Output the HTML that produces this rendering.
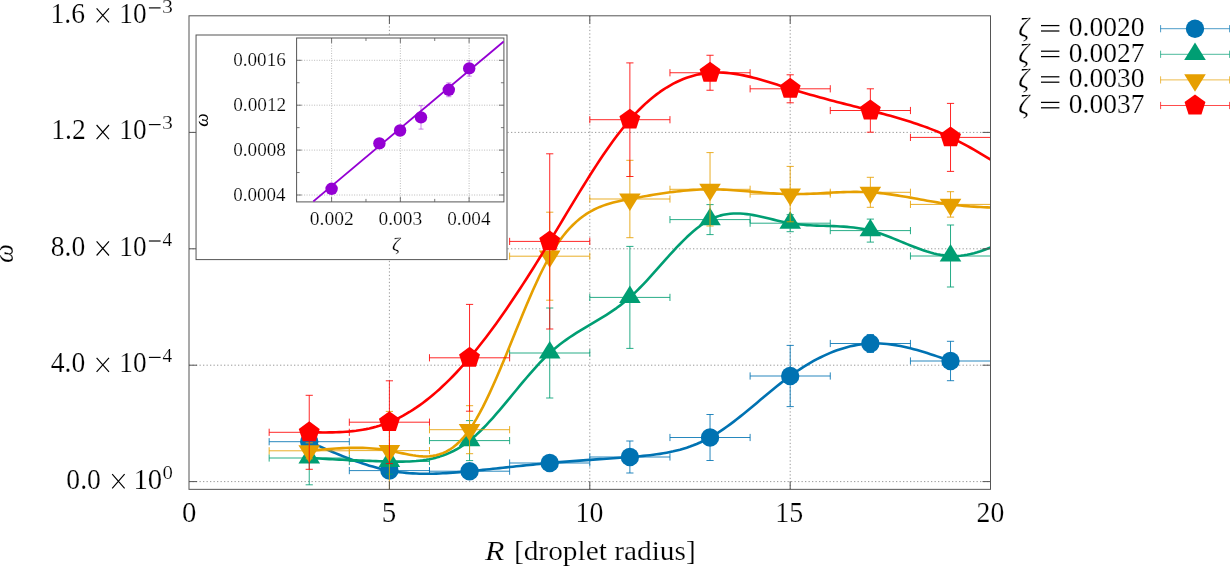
<!DOCTYPE html>
<html><head><meta charset="utf-8"><style>
html,body{margin:0;padding:0;background:#fff;overflow:hidden}
svg{display:block;font-family:"Liberation Serif",serif;will-change:transform}
text{stroke:#fff;stroke-width:0.2px}
</style></head><body>
<svg width="1230" height="567" viewBox="0 0 1230 567">
<rect width="1230" height="567" fill="#fff"/>
<path d="M389.40,15.8V489.35M589.80,15.8V489.35M790.20,15.8V489.35M189.0,481.6H990.5M189.0,365.2H990.5M189.0,248.8H990.5M189.0,132.4H990.5" stroke="#999" stroke-width="1" stroke-dasharray="1.3,2.2" fill="none"/>
<defs><clipPath id="pc"><rect x="189.0" y="15.8" width="801.50" height="473.55"/></clipPath></defs>
<g clip-path="url(#pc)">
<path d="M269.16,441.70H349.32M269.16,438.10V445.30M349.32,438.10V445.30M309.24,435.70V447.70M305.64,435.70H312.84M305.64,447.70H312.84M349.32,470.60H429.48M349.32,467.00V474.20M429.48,467.00V474.20M389.40,464.60V476.60M385.80,464.60H393.00M385.80,476.60H393.00M429.48,471.20H509.64M429.48,467.60V474.80M509.64,467.60V474.80M469.56,465.20V477.20M465.96,465.20H473.16M465.96,477.20H473.16M509.64,463.00H589.80M509.64,459.40V466.60M589.80,459.40V466.60M549.72,458.00V468.00M546.12,458.00H553.32M546.12,468.00H553.32M589.80,457.00H669.96M589.80,453.40V460.60M669.96,453.40V460.60M629.88,441.00V473.00M626.28,441.00H633.48M626.28,473.00H633.48M669.96,437.50H750.12M669.96,433.90V441.10M750.12,433.90V441.10M710.04,414.50V460.50M706.44,414.50H713.64M706.44,460.50H713.64M750.12,376.00H830.28M750.12,372.40V379.60M830.28,372.40V379.60M790.20,345.40V406.60M786.60,345.40H793.80M786.60,406.60H793.80M830.28,343.50H910.44M830.28,339.90V347.10M910.44,339.90V347.10M870.36,334.50V352.50M866.76,334.50H873.96M866.76,352.50H873.96M910.44,361.00H990.60M910.44,357.40V364.60M990.60,357.40V364.60M950.52,341.30V380.70M946.92,341.30H954.12M946.92,380.70H954.12" stroke="#0072b2" stroke-width="0.85" fill="none"/>
<path d="M309.24,441.70 L312.58,443.19 L315.92,444.68 L319.26,446.16 L322.60,447.64 L325.94,449.10 L329.28,450.54 L332.62,451.97 L335.96,453.38 L339.30,454.76 L342.64,456.12 L345.98,457.45 L349.32,458.74 L352.66,460.00 L356.00,461.21 L359.34,462.39 L362.68,463.52 L366.02,464.61 L369.36,465.64 L372.70,466.62 L376.04,467.54 L379.38,468.40 L382.72,469.20 L386.06,469.94 L389.40,470.60 L392.74,471.19 L396.08,471.72 L399.42,472.18 L402.76,472.57 L406.10,472.90 L409.44,473.18 L412.78,473.39 L416.12,473.56 L419.46,473.68 L422.80,473.74 L426.14,473.77 L429.48,473.75 L432.82,473.69 L436.16,473.59 L439.50,473.46 L442.84,473.30 L446.18,473.11 L449.52,472.89 L452.86,472.65 L456.20,472.39 L459.54,472.12 L462.88,471.82 L466.22,471.52 L469.56,471.20 L472.90,470.88 L476.24,470.55 L479.58,470.21 L482.92,469.87 L486.26,469.53 L489.60,469.18 L492.94,468.82 L496.28,468.47 L499.62,468.11 L502.96,467.75 L506.30,467.40 L509.64,467.04 L512.98,466.68 L516.32,466.33 L519.66,465.97 L523.00,465.62 L526.34,465.27 L529.68,464.93 L533.02,464.59 L536.36,464.26 L539.70,463.94 L543.04,463.62 L546.38,463.30 L549.72,463.00 L553.06,462.70 L556.40,462.42 L559.74,462.14 L563.08,461.87 L566.42,461.60 L569.76,461.34 L573.10,461.09 L576.44,460.84 L579.78,460.59 L583.12,460.35 L586.46,460.11 L589.80,459.87 L593.14,459.64 L596.48,459.41 L599.82,459.17 L603.16,458.94 L606.50,458.70 L609.84,458.47 L613.18,458.23 L616.52,457.99 L619.86,457.75 L623.20,457.51 L626.54,457.25 L629.88,457.00 L633.22,456.74 L636.56,456.47 L639.90,456.18 L643.24,455.87 L646.58,455.54 L649.92,455.17 L653.26,454.77 L656.60,454.33 L659.94,453.84 L663.28,453.31 L666.62,452.71 L669.96,452.05 L673.30,451.33 L676.64,450.53 L679.98,449.66 L683.32,448.70 L686.66,447.66 L690.00,446.53 L693.34,445.30 L696.68,443.96 L700.02,442.52 L703.36,440.97 L706.70,439.30 L710.04,437.50 L713.38,435.58 L716.72,433.54 L720.06,431.39 L723.40,429.14 L726.74,426.79 L730.08,424.36 L733.42,421.85 L736.76,419.28 L740.10,416.64 L743.44,413.96 L746.78,411.24 L750.12,408.48 L753.46,405.70 L756.80,402.90 L760.14,400.10 L763.48,397.30 L766.82,394.51 L770.16,391.74 L773.50,388.99 L776.84,386.29 L780.18,383.63 L783.52,381.02 L786.86,378.47 L790.20,376.00 L793.54,373.61 L796.88,371.29 L800.22,369.06 L803.56,366.91 L806.90,364.85 L810.24,362.88 L813.58,360.99 L816.92,359.19 L820.26,357.48 L823.60,355.86 L826.94,354.33 L830.28,352.90 L833.62,351.57 L836.96,350.33 L840.30,349.18 L843.64,348.14 L846.98,347.20 L850.32,346.35 L853.66,345.61 L857.00,344.98 L860.34,344.45 L863.68,344.02 L867.02,343.71 L870.36,343.50 L873.70,343.40 L877.04,343.41 L880.38,343.52 L883.72,343.72 L887.06,344.02 L890.40,344.40 L893.74,344.87 L897.08,345.41 L900.42,346.03 L903.76,346.72 L907.10,347.47 L910.44,348.28 L913.78,349.15 L917.12,350.07 L920.46,351.03 L923.80,352.03 L927.14,353.07 L930.48,354.15 L933.82,355.25 L937.16,356.37 L940.50,357.51 L943.84,358.67 L947.18,359.83 L950.52,361.00" stroke="#0072b2" stroke-width="2.6" fill="none" stroke-linejoin="round"/>
<circle cx="309.24" cy="441.70" r="9.2" fill="#0072b2"/>
<circle cx="389.40" cy="470.60" r="9.2" fill="#0072b2"/>
<circle cx="469.56" cy="471.20" r="9.2" fill="#0072b2"/>
<circle cx="549.72" cy="463.00" r="9.2" fill="#0072b2"/>
<circle cx="629.88" cy="457.00" r="9.2" fill="#0072b2"/>
<circle cx="710.04" cy="437.50" r="9.2" fill="#0072b2"/>
<circle cx="790.20" cy="376.00" r="9.2" fill="#0072b2"/>
<circle cx="870.36" cy="343.50" r="9.2" fill="#0072b2"/>
<circle cx="950.52" cy="361.00" r="9.2" fill="#0072b2"/>
<path d="M269.16,458.00H349.32M269.16,454.40V461.60M349.32,454.40V461.60M309.24,431.20V484.80M305.64,431.20H312.84M305.64,484.80H312.84M349.32,461.50H429.48M349.32,457.90V465.10M429.48,457.90V465.10M389.40,448.80V474.20M385.80,448.80H393.00M385.80,474.20H393.00M429.48,440.60H509.64M429.48,437.00V444.20M509.64,437.00V444.20M469.56,420.60V460.60M465.96,420.60H473.16M465.96,460.60H473.16M509.64,353.00H589.80M509.64,349.40V356.60M589.80,349.40V356.60M549.72,308.00V398.00M546.12,308.00H553.32M546.12,398.00H553.32M589.80,297.40H669.96M589.80,293.80V301.00M669.96,293.80V301.00M629.88,246.40V348.40M626.28,246.40H633.48M626.28,348.40H633.48M669.96,219.60H750.12M669.96,216.00V223.20M750.12,216.00V223.20M710.04,204.60V234.60M706.44,204.60H713.64M706.44,234.60H713.64M750.12,223.20H830.28M750.12,219.60V226.80M830.28,219.60V226.80M790.20,214.70V231.70M786.60,214.70H793.80M786.60,231.70H793.80M830.28,230.60H910.44M830.28,227.00V234.20M910.44,227.00V234.20M870.36,219.10V242.10M866.76,219.10H873.96M866.76,242.10H873.96M910.44,256.00H990.60M910.44,252.40V259.60M990.60,252.40V259.60M950.52,225.00V287.00M946.92,225.00H954.12M946.92,287.00H954.12" stroke="#009e73" stroke-width="0.85" fill="none"/>
<path d="M309.24,458.00 L312.58,458.18 L315.92,458.37 L319.26,458.55 L322.60,458.73 L325.94,458.91 L329.28,459.09 L332.62,459.26 L335.96,459.43 L339.30,459.60 L342.64,459.77 L345.98,459.93 L349.32,460.09 L352.66,460.24 L356.00,460.39 L359.34,460.53 L362.68,460.67 L366.02,460.80 L369.36,460.92 L372.70,461.04 L376.04,461.15 L379.38,461.25 L382.72,461.34 L386.06,461.42 L389.40,461.50 L392.74,461.56 L396.08,461.61 L399.42,461.63 L402.76,461.61 L406.10,461.55 L409.44,461.44 L412.78,461.27 L416.12,461.03 L419.46,460.70 L422.80,460.30 L426.14,459.79 L429.48,459.18 L432.82,458.46 L436.16,457.62 L439.50,456.64 L442.84,455.53 L446.18,454.27 L449.52,452.86 L452.86,451.28 L456.20,449.52 L459.54,447.59 L462.88,445.46 L466.22,443.13 L469.56,440.60 L472.90,437.85 L476.24,434.91 L479.58,431.78 L482.92,428.48 L486.26,425.04 L489.60,421.46 L492.94,417.76 L496.28,413.96 L499.62,410.08 L502.96,406.13 L506.30,402.13 L509.64,398.10 L512.98,394.04 L516.32,389.99 L519.66,385.95 L523.00,381.94 L526.34,377.98 L529.68,374.09 L533.02,370.27 L536.36,366.56 L539.70,362.95 L543.04,359.48 L546.38,356.16 L549.72,353.00 L553.06,350.02 L556.40,347.20 L559.74,344.53 L563.08,342.00 L566.42,339.59 L569.76,337.29 L573.10,335.08 L576.44,332.95 L579.78,330.88 L583.12,328.86 L586.46,326.87 L589.80,324.90 L593.14,322.94 L596.48,320.96 L599.82,318.96 L603.16,316.92 L606.50,314.83 L609.84,312.66 L613.18,310.41 L616.52,308.07 L619.86,305.61 L623.20,303.02 L626.54,300.29 L629.88,297.40 L633.22,294.35 L636.56,291.14 L639.90,287.79 L643.24,284.34 L646.58,280.78 L649.92,277.14 L653.26,273.45 L656.60,269.71 L659.94,265.96 L663.28,262.19 L666.62,258.45 L669.96,254.73 L673.30,251.07 L676.64,247.48 L679.98,243.98 L683.32,240.59 L686.66,237.32 L690.00,234.20 L693.34,231.25 L696.68,228.48 L700.02,225.91 L703.36,223.56 L706.70,221.45 L710.04,219.60 L713.38,218.02 L716.72,216.70 L720.06,215.63 L723.40,214.79 L726.74,214.17 L730.08,213.74 L733.42,213.50 L736.76,213.44 L740.10,213.53 L743.44,213.75 L746.78,214.11 L750.12,214.57 L753.46,215.13 L756.80,215.77 L760.14,216.47 L763.48,217.23 L766.82,218.01 L770.16,218.82 L773.50,219.63 L776.84,220.42 L780.18,221.20 L783.52,221.93 L786.86,222.60 L790.20,223.20 L793.54,223.72 L796.88,224.16 L800.22,224.53 L803.56,224.83 L806.90,225.08 L810.24,225.29 L813.58,225.46 L816.92,225.60 L820.26,225.72 L823.60,225.82 L826.94,225.92 L830.28,226.03 L833.62,226.15 L836.96,226.28 L840.30,226.45 L843.64,226.65 L846.98,226.90 L850.32,227.20 L853.66,227.57 L857.00,228.00 L860.34,228.51 L863.68,229.11 L867.02,229.80 L870.36,230.60 L873.70,231.50 L877.04,232.51 L880.38,233.60 L883.72,234.77 L887.06,236.00 L890.40,237.29 L893.74,238.61 L897.08,239.97 L900.42,241.34 L903.76,242.72 L907.10,244.09 L910.44,245.44 L913.78,246.76 L917.12,248.05 L920.46,249.27 L923.80,250.44 L927.14,251.53 L930.48,252.52 L933.82,253.42 L937.16,254.21 L940.50,254.87 L943.84,255.40 L947.18,255.78 L950.52,256.00 L953.86,256.05 L957.20,255.94 L960.54,255.68 L963.88,255.26 L967.22,254.70 L970.56,254.01 L973.90,253.18 L977.24,252.24 L980.58,251.18 L983.92,250.02 L987.26,248.76 L990.60,247.40" stroke="#009e73" stroke-width="2.6" fill="none" stroke-linejoin="round"/>
<polygon points="309.24,446.10 320.04,463.60 298.44,463.60" fill="#009e73"/>
<polygon points="389.40,449.60 400.20,467.10 378.60,467.10" fill="#009e73"/>
<polygon points="469.56,428.70 480.36,446.20 458.76,446.20" fill="#009e73"/>
<polygon points="549.72,341.10 560.52,358.60 538.92,358.60" fill="#009e73"/>
<polygon points="629.88,285.50 640.68,303.00 619.08,303.00" fill="#009e73"/>
<polygon points="710.04,207.70 720.84,225.20 699.24,225.20" fill="#009e73"/>
<polygon points="790.20,211.30 801.00,228.80 779.40,228.80" fill="#009e73"/>
<polygon points="870.36,218.70 881.16,236.20 859.56,236.20" fill="#009e73"/>
<polygon points="950.52,244.10 961.32,261.60 939.72,261.60" fill="#009e73"/>
<path d="M269.16,450.80H349.32M269.16,447.20V454.40M349.32,447.20V454.40M309.24,442.80V458.80M305.64,442.80H312.84M305.64,458.80H312.84M349.32,450.60H429.48M349.32,447.00V454.20M429.48,447.00V454.20M389.40,411.40V489.80M385.80,411.40H393.00M385.80,489.80H393.00M429.48,429.70H509.64M429.48,426.10V433.30M509.64,426.10V433.30M469.56,405.70V453.70M465.96,405.70H473.16M465.96,453.70H473.16M509.64,256.20H589.80M509.64,252.60V259.80M589.80,252.60V259.80M549.72,212.20V300.20M546.12,212.20H553.32M546.12,300.20H553.32M589.80,199.00H669.96M589.80,195.40V202.60M669.96,195.40V202.60M629.88,160.30V237.70M626.28,160.30H633.48M626.28,237.70H633.48M669.96,189.30H750.12M669.96,185.70V192.90M750.12,185.70V192.90M710.04,152.60V226.00M706.44,152.60H713.64M706.44,226.00H713.64M750.12,194.10H830.28M750.12,190.50V197.70M830.28,190.50V197.70M790.20,166.40V221.80M786.60,166.40H793.80M786.60,221.80H793.80M830.28,192.30H910.44M830.28,188.70V195.90M910.44,188.70V195.90M870.36,177.30V207.30M866.76,177.30H873.96M866.76,207.30H873.96M910.44,204.40H990.60M910.44,200.80V208.00M990.60,200.80V208.00M950.52,191.70V217.10M946.92,191.70H954.12M946.92,217.10H954.12" stroke="#e69f00" stroke-width="0.85" fill="none"/>
<path d="M309.24,450.80 L312.58,450.48 L315.92,450.17 L319.26,449.86 L322.60,449.56 L325.94,449.28 L329.28,449.01 L332.62,448.76 L335.96,448.53 L339.30,448.33 L342.64,448.16 L345.98,448.02 L349.32,447.92 L352.66,447.85 L356.00,447.83 L359.34,447.85 L362.68,447.92 L366.02,448.04 L369.36,448.21 L372.70,448.45 L376.04,448.74 L379.38,449.10 L382.72,449.53 L386.06,450.03 L389.40,450.60 L392.74,451.25 L396.08,451.94 L399.42,452.67 L402.76,453.39 L406.10,454.10 L409.44,454.75 L412.78,455.33 L416.12,455.82 L419.46,456.18 L422.80,456.39 L426.14,456.43 L429.48,456.27 L432.82,455.88 L436.16,455.25 L439.50,454.34 L442.84,453.13 L446.18,451.60 L449.52,449.72 L452.86,447.47 L456.20,444.81 L459.54,441.74 L462.88,438.21 L466.22,434.20 L469.56,429.70 L472.90,424.68 L476.24,419.18 L479.58,413.23 L482.92,406.88 L486.26,400.16 L489.60,393.12 L492.94,385.79 L496.28,378.21 L499.62,370.43 L502.96,362.48 L506.30,354.41 L509.64,346.25 L512.98,338.05 L516.32,329.84 L519.66,321.67 L523.00,313.56 L526.34,305.58 L529.68,297.74 L533.02,290.10 L536.36,282.69 L539.70,275.56 L543.04,268.74 L546.38,262.27 L549.72,256.20 L553.06,250.55 L556.40,245.32 L559.74,240.48 L563.08,236.02 L566.42,231.93 L569.76,228.17 L573.10,224.75 L576.44,221.63 L579.78,218.80 L583.12,216.25 L586.46,213.94 L589.80,211.88 L593.14,210.03 L596.48,208.38 L599.82,206.92 L603.16,205.62 L606.50,204.47 L609.84,203.44 L613.18,202.53 L616.52,201.71 L619.86,200.96 L623.20,200.28 L626.54,199.63 L629.88,199.00 L633.22,198.38 L636.56,197.76 L639.90,197.16 L643.24,196.56 L646.58,195.97 L649.92,195.39 L653.26,194.83 L656.60,194.29 L659.94,193.76 L663.28,193.25 L666.62,192.77 L669.96,192.31 L673.30,191.87 L676.64,191.47 L679.98,191.09 L683.32,190.74 L686.66,190.43 L690.00,190.15 L693.34,189.90 L696.68,189.70 L700.02,189.53 L703.36,189.41 L706.70,189.33 L710.04,189.30 L713.38,189.31 L716.72,189.37 L720.06,189.47 L723.40,189.61 L726.74,189.77 L730.08,189.97 L733.42,190.19 L736.76,190.43 L740.10,190.69 L743.44,190.96 L746.78,191.25 L750.12,191.54 L753.46,191.83 L756.80,192.12 L760.14,192.40 L763.48,192.68 L766.82,192.94 L770.16,193.19 L773.50,193.41 L776.84,193.61 L780.18,193.79 L783.52,193.93 L786.86,194.03 L790.20,194.10 L793.54,194.12 L796.88,194.11 L800.22,194.06 L803.56,193.98 L806.90,193.88 L810.24,193.75 L813.58,193.60 L816.92,193.44 L820.26,193.27 L823.60,193.09 L826.94,192.91 L830.28,192.74 L833.62,192.57 L836.96,192.41 L840.30,192.26 L843.64,192.13 L846.98,192.03 L850.32,191.96 L853.66,191.91 L857.00,191.90 L860.34,191.93 L863.68,192.01 L867.02,192.13 L870.36,192.30 L873.70,192.53 L877.04,192.81 L880.38,193.14 L883.72,193.51 L887.06,193.92 L890.40,194.37 L893.74,194.86 L897.08,195.37 L900.42,195.91 L903.76,196.47 L907.10,197.04 L910.44,197.63 L913.78,198.24 L917.12,198.84 L920.46,199.45 L923.80,200.06 L927.14,200.66 L930.48,201.25 L933.82,201.83 L937.16,202.40 L940.50,202.94 L943.84,203.45 L947.18,203.94 L950.52,204.40 L953.86,204.82 L957.20,205.21 L960.54,205.56 L963.88,205.88 L967.22,206.17 L970.56,206.44 L973.90,206.67 L977.24,206.88 L980.58,207.07 L983.92,207.23 L987.26,207.38 L990.60,207.50" stroke="#e69f00" stroke-width="2.6" fill="none" stroke-linejoin="round"/>
<polygon points="309.24,462.70 320.04,445.20 298.44,445.20" fill="#e69f00"/>
<polygon points="389.40,462.50 400.20,445.00 378.60,445.00" fill="#e69f00"/>
<polygon points="469.56,441.60 480.36,424.10 458.76,424.10" fill="#e69f00"/>
<polygon points="549.72,268.10 560.52,250.60 538.92,250.60" fill="#e69f00"/>
<polygon points="629.88,210.90 640.68,193.40 619.08,193.40" fill="#e69f00"/>
<polygon points="710.04,201.20 720.84,183.70 699.24,183.70" fill="#e69f00"/>
<polygon points="790.20,206.00 801.00,188.50 779.40,188.50" fill="#e69f00"/>
<polygon points="870.36,204.20 881.16,186.70 859.56,186.70" fill="#e69f00"/>
<polygon points="950.52,216.30 961.32,198.80 939.72,198.80" fill="#e69f00"/>
<path d="M269.16,432.30H349.32M269.16,428.70V435.90M349.32,428.70V435.90M309.24,395.30V469.30M305.64,395.30H312.84M305.64,469.30H312.84M349.32,422.20H429.48M349.32,418.60V425.80M429.48,418.60V425.80M389.40,380.80V463.60M385.80,380.80H393.00M385.80,463.60H393.00M429.48,357.80H509.64M429.48,354.20V361.40M509.64,354.20V361.40M469.56,304.40V411.20M465.96,304.40H473.16M465.96,411.20H473.16M509.64,241.40H589.80M509.64,237.80V245.00M589.80,237.80V245.00M549.72,153.80V329.00M546.12,153.80H553.32M546.12,329.00H553.32M589.80,119.70H669.96M589.80,116.10V123.30M669.96,116.10V123.30M629.88,62.90V176.50M626.28,62.90H633.48M626.28,176.50H633.48M669.96,72.75H750.12M669.96,69.15V76.35M750.12,69.15V76.35M710.04,55.25V90.25M706.44,55.25H713.64M706.44,90.25H713.64M750.12,88.80H830.28M750.12,85.20V92.40M830.28,85.20V92.40M790.20,74.80V102.80M786.60,74.80H793.80M786.60,102.80H793.80M830.28,110.50H910.44M830.28,106.90V114.10M910.44,106.90V114.10M870.36,88.80V132.20M866.76,88.80H873.96M866.76,132.20H873.96M910.44,137.40H990.60M910.44,133.80V141.00M990.60,133.80V141.00M950.52,103.40V171.40M946.92,103.40H954.12M946.92,171.40H954.12" stroke="#ff0000" stroke-width="0.85" fill="none"/>
<path d="M309.24,432.30 L312.58,432.35 L315.92,432.39 L319.26,432.42 L322.60,432.43 L325.94,432.43 L329.28,432.40 L332.62,432.35 L335.96,432.26 L339.30,432.13 L342.64,431.95 L345.98,431.73 L349.32,431.46 L352.66,431.12 L356.00,430.73 L359.34,430.26 L362.68,429.72 L366.02,429.11 L369.36,428.41 L372.70,427.62 L376.04,426.74 L379.38,425.76 L382.72,424.68 L386.06,423.50 L389.40,422.20 L392.74,420.79 L396.08,419.26 L399.42,417.61 L402.76,415.85 L406.10,413.98 L409.44,411.99 L412.78,409.89 L416.12,407.68 L419.46,405.36 L422.80,402.93 L426.14,400.39 L429.48,397.74 L432.82,394.99 L436.16,392.12 L439.50,389.16 L442.84,386.08 L446.18,382.90 L449.52,379.62 L452.86,376.24 L456.20,372.75 L459.54,369.16 L462.88,365.48 L466.22,361.69 L469.56,357.80 L472.90,353.82 L476.24,349.73 L479.58,345.56 L482.92,341.30 L486.26,336.95 L489.60,332.51 L492.94,328.00 L496.28,323.40 L499.62,318.73 L502.96,313.99 L506.30,309.17 L509.64,304.29 L512.98,299.34 L516.32,294.33 L519.66,289.26 L523.00,284.13 L526.34,278.95 L529.68,273.72 L533.02,268.44 L536.36,263.11 L539.70,257.74 L543.04,252.33 L546.38,246.88 L549.72,241.40 L553.06,235.89 L556.40,230.35 L559.74,224.80 L563.08,219.24 L566.42,213.68 L569.76,208.13 L573.10,202.60 L576.44,197.10 L579.78,191.64 L583.12,186.22 L586.46,180.85 L589.80,175.54 L593.14,170.30 L596.48,165.14 L599.82,160.07 L603.16,155.09 L606.50,150.21 L609.84,145.45 L613.18,140.81 L616.52,136.30 L619.86,131.92 L623.20,127.69 L626.54,123.61 L629.88,119.70 L633.22,115.96 L636.56,112.38 L639.90,108.97 L643.24,105.73 L646.58,102.66 L649.92,99.74 L653.26,96.98 L656.60,94.39 L659.94,91.94 L663.28,89.66 L666.62,87.52 L669.96,85.53 L673.30,83.70 L676.64,82.01 L679.98,80.46 L683.32,79.06 L686.66,77.80 L690.00,76.67 L693.34,75.69 L696.68,74.84 L700.02,74.12 L703.36,73.54 L706.70,73.08 L710.04,72.75 L713.38,72.55 L716.72,72.46 L720.06,72.49 L723.40,72.63 L726.74,72.87 L730.08,73.20 L733.42,73.63 L736.76,74.14 L740.10,74.72 L743.44,75.38 L746.78,76.11 L750.12,76.89 L753.46,77.73 L756.80,78.61 L760.14,79.54 L763.48,80.51 L766.82,81.50 L770.16,82.52 L773.50,83.56 L776.84,84.60 L780.18,85.66 L783.52,86.71 L786.86,87.76 L790.20,88.80 L793.54,89.82 L796.88,90.82 L800.22,91.81 L803.56,92.78 L806.90,93.74 L810.24,94.69 L813.58,95.62 L816.92,96.54 L820.26,97.45 L823.60,98.36 L826.94,99.25 L830.28,100.14 L833.62,101.01 L836.96,101.89 L840.30,102.76 L843.64,103.62 L846.98,104.48 L850.32,105.34 L853.66,106.20 L857.00,107.05 L860.34,107.91 L863.68,108.77 L867.02,109.63 L870.36,110.50 L873.70,111.37 L877.04,112.25 L880.38,113.13 L883.72,114.03 L887.06,114.93 L890.40,115.86 L893.74,116.80 L897.08,117.76 L900.42,118.74 L903.76,119.74 L907.10,120.77 L910.44,121.82 L913.78,122.91 L917.12,124.03 L920.46,125.18 L923.80,126.36 L927.14,127.59 L930.48,128.85 L933.82,130.16 L937.16,131.51 L940.50,132.91 L943.84,134.35 L947.18,135.85 L950.52,137.40 L953.86,139.00 L957.20,140.66 L960.54,142.36 L963.88,144.12 L967.22,145.92 L970.56,147.76 L973.90,149.64 L977.24,151.57 L980.58,153.53 L983.92,155.52 L987.26,157.55 L990.60,159.60" stroke="#ff0000" stroke-width="2.6" fill="none" stroke-linejoin="round"/>
<polygon points="309.24,421.30 319.70,428.90 315.71,441.20 302.77,441.20 298.78,428.90" fill="#ff0000"/>
<polygon points="389.40,411.20 399.86,418.80 395.87,431.10 382.93,431.10 378.94,418.80" fill="#ff0000"/>
<polygon points="469.56,346.80 480.02,354.40 476.03,366.70 463.09,366.70 459.10,354.40" fill="#ff0000"/>
<polygon points="549.72,230.40 560.18,238.00 556.19,250.30 543.25,250.30 539.26,238.00" fill="#ff0000"/>
<polygon points="629.88,108.70 640.34,116.30 636.35,128.60 623.41,128.60 619.42,116.30" fill="#ff0000"/>
<polygon points="710.04,61.75 720.50,69.35 716.51,81.65 703.57,81.65 699.58,69.35" fill="#ff0000"/>
<polygon points="790.20,77.80 800.66,85.40 796.67,97.70 783.73,97.70 779.74,85.40" fill="#ff0000"/>
<polygon points="870.36,99.50 880.82,107.10 876.83,119.40 863.89,119.40 859.90,107.10" fill="#ff0000"/>
<polygon points="950.52,126.40 960.98,134.00 956.99,146.30 944.05,146.30 940.06,134.00" fill="#ff0000"/>
</g>
<path d="M189.0,481.6h8M990.5,481.6h-8M189.0,365.2h8M990.5,365.2h-8M189.0,248.8h8M990.5,248.8h-8M189.0,132.4h8M990.5,132.4h-8M389.40,489.35v-8M389.40,15.8v8M589.80,489.35v-8M589.80,15.8v8M790.20,489.35v-8M790.20,15.8v8" stroke="#555" stroke-width="1" fill="none"/>
<rect x="189.0" y="15.8" width="801.50" height="473.55" stroke="#555" stroke-width="1" fill="none"/>
<text x="50.53" y="22.70" font-size="29" textLength="34.49" lengthAdjust="spacingAndGlyphs">1.6</text>
<path d="M96.60,8.30L109.00,22.40M109.00,8.30L96.60,22.40" stroke="#000" stroke-width="1.15" fill="none"/>
<text x="119.31" y="22.70" font-size="29" textLength="27.23" lengthAdjust="spacingAndGlyphs">10</text>
<rect x="148.90" y="7.32" width="11.70" height="1.15" fill="#000"/>
<text x="161.96" y="12.60" font-size="18.5" textLength="10.89" lengthAdjust="spacingAndGlyphs">3</text>
<text x="51.23" y="139.40" font-size="29" textLength="34.49" lengthAdjust="spacingAndGlyphs">1.2</text>
<path d="M96.60,125.00L109.00,139.10M109.00,125.00L96.60,139.10" stroke="#000" stroke-width="1.15" fill="none"/>
<text x="119.31" y="139.40" font-size="29" textLength="27.23" lengthAdjust="spacingAndGlyphs">10</text>
<rect x="148.90" y="124.03" width="11.70" height="1.15" fill="#000"/>
<text x="161.96" y="129.30" font-size="18.5" textLength="10.89" lengthAdjust="spacingAndGlyphs">3</text>
<text x="50.76" y="255.80" font-size="29" textLength="34.49" lengthAdjust="spacingAndGlyphs">8.0</text>
<path d="M96.60,241.40L109.00,255.50M109.00,241.40L96.60,255.50" stroke="#000" stroke-width="1.15" fill="none"/>
<text x="119.31" y="255.80" font-size="29" textLength="27.23" lengthAdjust="spacingAndGlyphs">10</text>
<rect x="148.90" y="240.43" width="11.70" height="1.15" fill="#000"/>
<text x="162.62" y="245.70" font-size="18.5" textLength="9.68" lengthAdjust="spacingAndGlyphs">4</text>
<text x="50.76" y="372.20" font-size="29" textLength="34.49" lengthAdjust="spacingAndGlyphs">4.0</text>
<path d="M96.60,357.80L109.00,371.90M109.00,357.80L96.60,371.90" stroke="#000" stroke-width="1.15" fill="none"/>
<text x="119.31" y="372.20" font-size="29" textLength="27.23" lengthAdjust="spacingAndGlyphs">10</text>
<rect x="148.90" y="356.82" width="11.70" height="1.15" fill="#000"/>
<text x="162.62" y="362.10" font-size="18.5" textLength="9.68" lengthAdjust="spacingAndGlyphs">4</text>
<text x="66.36" y="488.60" font-size="29" textLength="34.49" lengthAdjust="spacingAndGlyphs">0.0</text>
<path d="M112.20,474.20L124.60,488.30M124.60,474.20L112.20,488.30" stroke="#000" stroke-width="1.15" fill="none"/>
<text x="133.48" y="488.60" font-size="29" textLength="28.72" lengthAdjust="spacingAndGlyphs">10</text>
<text x="162.41" y="478.90" font-size="18.5" textLength="10.38" lengthAdjust="spacingAndGlyphs">0</text>
<text x="181.90" y="521.80" font-size="29" textLength="14.39" lengthAdjust="spacingAndGlyphs">0</text>
<text x="381.71" y="521.80" font-size="29" textLength="14.52" lengthAdjust="spacingAndGlyphs">5</text>
<text x="575.56" y="521.80" font-size="29" textLength="27.80" lengthAdjust="spacingAndGlyphs">10</text>
<text x="775.34" y="521.80" font-size="29" textLength="27.95" lengthAdjust="spacingAndGlyphs">15</text>
<text x="976.58" y="521.80" font-size="29" textLength="27.67" lengthAdjust="spacingAndGlyphs">20</text>
<text x="485.07" y="559.60" font-size="28" textLength="19.36" lengthAdjust="spacingAndGlyphs" font-style="italic">R</text>
<text x="513.92" y="559.60" font-size="28" textLength="181.86" lengthAdjust="spacingAndGlyphs">[droplet radius]</text>
<text transform="translate(13.2,263.0) rotate(-90)" font-size="27" font-style="italic" style="stroke-width:0.15px">ω</text>
<text x="1018.13" y="35.90" font-size="28" textLength="10.95" lengthAdjust="spacingAndGlyphs" font-style="italic">ζ</text>
<rect x="1041.00" y="24.97" width="18.40" height="1.25" fill="#000"/><rect x="1041.00" y="30.38" width="18.40" height="1.25" fill="#000"/>
<text x="1068.75" y="35.90" font-size="28" textLength="75.90" lengthAdjust="spacingAndGlyphs">0.0020</text>
<path d="M1160.6,28.70H1229.6M1160.6,25.10V32.30M1229.6,25.10V32.30" stroke="#0072b2" stroke-width="1" stroke-opacity="0.7" fill="none"/>
<circle cx="1195.00" cy="28.70" r="9.2" fill="#0072b2"/>
<text x="1018.13" y="61.50" font-size="28" textLength="10.95" lengthAdjust="spacingAndGlyphs" font-style="italic">ζ</text>
<rect x="1041.00" y="50.58" width="18.40" height="1.25" fill="#000"/><rect x="1041.00" y="55.98" width="18.40" height="1.25" fill="#000"/>
<text x="1068.75" y="61.50" font-size="28" textLength="75.64" lengthAdjust="spacingAndGlyphs">0.0027</text>
<path d="M1160.6,54.30H1229.6M1160.6,50.70V57.90M1229.6,50.70V57.90" stroke="#009e73" stroke-width="1" stroke-opacity="0.7" fill="none"/>
<polygon points="1195.00,42.40 1205.80,59.90 1184.20,59.90" fill="#009e73"/>
<text x="1018.13" y="87.10" font-size="28" textLength="10.95" lengthAdjust="spacingAndGlyphs" font-style="italic">ζ</text>
<rect x="1041.00" y="76.17" width="18.40" height="1.25" fill="#000"/><rect x="1041.00" y="81.57" width="18.40" height="1.25" fill="#000"/>
<text x="1068.75" y="87.10" font-size="28" textLength="75.90" lengthAdjust="spacingAndGlyphs">0.0030</text>
<path d="M1160.6,79.90H1229.6M1160.6,76.30V83.50M1229.6,76.30V83.50" stroke="#e69f00" stroke-width="1" stroke-opacity="0.7" fill="none"/>
<polygon points="1195.00,91.80 1205.80,74.30 1184.20,74.30" fill="#e69f00"/>
<text x="1018.13" y="112.70" font-size="28" textLength="10.95" lengthAdjust="spacingAndGlyphs" font-style="italic">ζ</text>
<rect x="1041.00" y="101.78" width="18.40" height="1.25" fill="#000"/><rect x="1041.00" y="107.18" width="18.40" height="1.25" fill="#000"/>
<text x="1068.75" y="112.70" font-size="28" textLength="75.64" lengthAdjust="spacingAndGlyphs">0.0037</text>
<path d="M1160.6,105.50H1229.6M1160.6,101.90V109.10M1229.6,101.90V109.10" stroke="#ff0000" stroke-width="1" stroke-opacity="0.7" fill="none"/>
<polygon points="1195.00,94.50 1205.46,102.10 1201.47,114.40 1188.53,114.40 1184.54,102.10" fill="#ff0000"/>
<rect x="196.05" y="35.0" width="310.95" height="224.6" fill="#fff" stroke="#555" stroke-width="1"/>
<path d="M331.60,38.0V201.9M400.35,38.0V201.9M469.10,38.0V201.9M296.6,195.00H503.9M296.6,150.10H503.9M296.6,105.20H503.9M296.6,60.30H503.9" stroke="#aaa" stroke-width="0.8" stroke-dasharray="1,1.5" fill="none"/>
<path d="M331.60,201.9v-5M331.60,38.0v5M400.35,201.9v-5M400.35,38.0v5M469.10,201.9v-5M469.10,38.0v5M365.98,201.9v-3M365.98,38.0v3M434.73,201.9v-3M434.73,38.0v3M296.6,195.00h5M503.9,195.00h-5M296.6,150.10h5M503.9,150.10h-5M296.6,105.20h5M503.9,105.20h-5M296.6,60.30h5M503.9,60.30h-5M296.6,172.55h3M503.9,172.55h-3M296.6,127.65h3M503.9,127.65h-3M296.6,82.75h3M503.9,82.75h-3" stroke="#555" stroke-width="0.8" fill="none"/>
<rect x="296.6" y="38.0" width="207.30" height="163.90" stroke="#555" stroke-width="1" fill="none"/>
<text x="233.17" y="65.90" font-size="19.5" textLength="52.60" lengthAdjust="spacingAndGlyphs">0.0016</text>
<text x="233.16" y="110.80" font-size="19.5" textLength="53.10" lengthAdjust="spacingAndGlyphs">0.0012</text>
<text x="233.17" y="155.70" font-size="19.5" textLength="52.76" lengthAdjust="spacingAndGlyphs">0.0008</text>
<text x="233.18" y="200.60" font-size="19.5" textLength="52.32" lengthAdjust="spacingAndGlyphs">0.0004</text>
<text x="309.75" y="224.50" font-size="19.5" textLength="44.02" lengthAdjust="spacingAndGlyphs">0.002</text>
<text x="378.51" y="224.50" font-size="19.5" textLength="43.70" lengthAdjust="spacingAndGlyphs">0.003</text>
<text x="447.27" y="224.50" font-size="19.5" textLength="43.23" lengthAdjust="spacingAndGlyphs">0.004</text>
<text x="391.96" y="250.80" font-size="19.5" textLength="8.03" lengthAdjust="spacingAndGlyphs" font-style="italic">ζ</text>
<text transform="translate(208.1,126.8) rotate(-90)" font-size="19" font-style="italic" style="stroke:none">ω</text>
<defs><clipPath id="ic"><rect x="296.6" y="38.0" width="207.30" height="163.90"/></clipPath></defs>
<g clip-path="url(#ic)">
<path d="M313.3,201.4L503.7,41.5" stroke="#9400d3" stroke-width="1.8" fill="none"/>
<path d="M331.6,185.80V191.80M329.1,185.80h5M329.1,191.80h5M379.4,140.40V146.40M376.9,140.40h5M376.9,146.40h5M400.1,127.50V133.50M397.6,127.50h5M397.6,133.50h5M421,105.70V129.10M418.5,105.70h5M418.5,129.10h5M448.8,82.90V96.70M446.3,82.90h5M446.3,96.70h5M469.2,60.70V76.10M466.7,60.70h5M466.7,76.10h5" stroke="#9400d3" stroke-width="0.8" stroke-opacity="0.6" fill="none"/>
<circle cx="331.6" cy="188.8" r="6.2" fill="#9400d3"/>
<circle cx="379.4" cy="143.4" r="6.2" fill="#9400d3"/>
<circle cx="400.1" cy="130.5" r="6.2" fill="#9400d3"/>
<circle cx="421" cy="117.4" r="6.2" fill="#9400d3"/>
<circle cx="448.8" cy="89.8" r="6.2" fill="#9400d3"/>
<circle cx="469.2" cy="68.4" r="6.2" fill="#9400d3"/>
</g>
</svg>
</body></html>
